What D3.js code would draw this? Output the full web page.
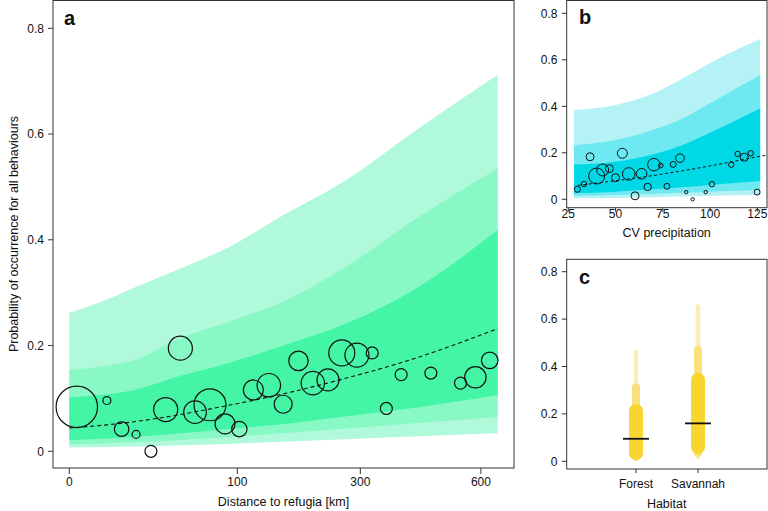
<!DOCTYPE html>
<html><head><meta charset="utf-8">
<script src="https://cdn.jsdelivr.net/npm/d3@7"></script>
<style>
body{margin:0;background:#fff;}
svg{display:block;font-family:"Liberation Sans",Arial,Helvetica,sans-serif;}
</style></head>
<body>
<script>
// ---------- Panel a data ----------
const gridA = [0, 5, 15, 40, 90, 160, 270, 420, 650];          // distance to refugia (km)
const aLo95 = [0.007, 0.008, 0.009, 0.011, 0.014, 0.018, 0.023, 0.028, 0.034];
const aLo80 = [0.013, 0.015, 0.017, 0.021, 0.027, 0.034, 0.043, 0.053, 0.065];
const aLo50 = [0.021, 0.024, 0.027, 0.033, 0.042, 0.051, 0.066, 0.082, 0.106];
const aHi50 = [0.102, 0.108, 0.116, 0.140, 0.167, 0.199, 0.241, 0.305, 0.419];
const aHi80 = [0.154, 0.162, 0.172, 0.210, 0.245, 0.282, 0.348, 0.437, 0.535];
const aHi95 = [0.262, 0.287, 0.310, 0.342, 0.386, 0.445, 0.512, 0.604, 0.712];
const aMean = [0.044, 0.050, 0.056, 0.068, 0.087, 0.108, 0.138, 0.175, 0.232];
const aDist = [0.2, 5, 9.7, 15.8, 23.6, 43.7, 32.9, 56, 70.1, 85.9, 102.4, 120, 141, 162, 186, 210, 237, 263, 293, 325, 356, 390, 463, 542, 584, 626];
const aProb = [0.084, 0.096, 0.042, 0.032, 0.0, 0.195, 0.079, 0.074, 0.088, 0.052, 0.042, 0.116, 0.125, 0.089, 0.171, 0.129, 0.135, 0.186, 0.182, 0.186, 0.081, 0.145, 0.148, 0.129, 0.14, 0.172];
const aWeight = [100, 3.7, 12.4, 3.7, 8.4, 33.6, 33.6, 29.8, 59.7, 23.3, 13.8, 23.3, 32, 18.9, 22, 32, 28.2, 39.4, 33.6, 8.4, 8.4, 8.4, 8.4, 8.4, 26.7, 16.1];
const aXTicks = [0, 100, 300, 600];
const yTicks = [0, 0.2, 0.4, 0.6, 0.8];

// ---------- Panel b data ----------
const gridB = [28, 50, 68, 85.5, 103, 126.5];                   // CV precipitation
const bLo95 = [0.004, 0.006, 0.009, 0.012, 0.015, 0.018];
const bLo80 = [0.014, 0.018, 0.023, 0.028, 0.034, 0.040];
const bLo50 = [0.026, 0.033, 0.042, 0.052, 0.064, 0.079];
const bHi50 = [0.150, 0.162, 0.190, 0.234, 0.298, 0.391];
const bHi80 = [0.233, 0.255, 0.294, 0.348, 0.427, 0.535];
const bHi95 = [0.384, 0.406, 0.449, 0.520, 0.599, 0.689];
const bMeanX = [30, 50, 68, 85.5, 103, 126.5, 130];
const bMean = [0.060, 0.080, 0.100, 0.123, 0.148, 0.185, 0.190];
const bCV = [29.8, 33.3, 36.5, 40, 43.2, 46.7, 50, 53.6, 57, 60.3, 63.8, 67, 70.3, 73.9, 77.2, 80.5, 84.1, 87.4, 90.8, 97.7, 101, 111.2, 114.6, 118.1, 121.5, 124.9];
const bProb = [0.043, 0.066, 0.183, 0.100, 0.126, 0.132, 0.093, 0.198, 0.109, 0.015, 0.110, 0.053, 0.149, 0.145, 0.056, 0.150, 0.177, 0.031, 0.000, 0.031, 0.065, 0.149, 0.195, 0.181, 0.198, 0.031];
const bWeight = [14, 11.4, 25, 100, 56, 25, 25, 39, 62, 25, 44, 21, 62, 8.3, 14, 14, 29, 4.5, 4.5, 4.5, 11.4, 11.4, 11.4, 25, 11.4, 14];
const bXTicks = [25, 50, 75, 100, 125];

// ---------- Panel c data ----------
const habitats = ["Forest", "Savannah"];
const cLo95 = [0.010, 0.018];
const cHi95 = [0.461, 0.653];
const cLo80 = [0.020, 0.035];
const cHi80 = [0.312, 0.470];
const cLo50 = [0.035, 0.060];
const cHi50 = [0.212, 0.344];
const cMean = [0.095, 0.160];

const W = 768, H = 511;
const svg = d3.select("body").append("svg").attr("width", W).attr("height", H);
const fmt = d => d === 0 ? "0" : d3.format(".1f")(d);
const FS = 12;     // tick labels
const FT = 12.5;   // axis titles
const FP = 20;     // panel letters

function frame(x0, y0, x1, y1) {
  svg.append("rect").attr("x", x0).attr("y", y0).attr("width", x1 - x0).attr("height", y1 - y0)
    .attr("fill", "none").attr("stroke", "#333").attr("stroke-width", 1);
}
function yAxis(scale, xPos, labX) {
  const g = svg.append("g");
  yTicks.forEach(t => {
    const y = scale(t);
    g.append("line").attr("x1", xPos - 5).attr("x2", xPos).attr("y1", y).attr("y2", y).attr("stroke", "#333");
    g.append("text").attr("x", labX).attr("y", y).attr("dy", "0.35em").attr("text-anchor", "end")
      .attr("font-size", FS).attr("fill", "#111").text(fmt(t));
  });
}
function xAxisTicks(positions, labels, yPos, len, labY) {
  positions.forEach((x, i) => {
    svg.append("line").attr("x1", x).attr("x2", x).attr("y1", yPos).attr("y2", yPos + len).attr("stroke", "#333");
    svg.append("text").attr("x", x).attr("y", labY).attr("dy", "0.35em").attr("text-anchor", "middle")
      .attr("font-size", FS).attr("fill", "#111").text(labels[i]);
  });
}
function bands(grid, xs, ys, layers, colors) {
  const area = d3.area().x((d, i) => xs(grid[i])).y0((d, i) => ys(d[0])).y1((d, i) => ys(d[1])).curve(d3.curveMonotoneX);
  layers.forEach((L, k) => {
    const data = grid.map((g, i) => [L[0][i], L[1][i]]);
    svg.append("path").attr("d", area(data)).attr("fill", colors[k]);
  });
}

// ================= Panel a =================
const xA = d3.scaleSqrt().domain([0, 650]).range([69.3, 497.7]);
const yA = d3.scaleLinear().domain([0, 0.8]).range([451.3, 28.3]);
const rA = d3.scaleSqrt().domain([0, 100]).range([0, 20.7]);
bands(gridA, xA, yA, [[aLo95, aHi95], [aLo80, aHi80], [aLo50, aHi50]], ["#b0f9da", "#88f9c5", "#45f5a6"]);
svg.append("path").datum(gridA.map((g, i) => [g, aMean[i]]))
  .attr("d", d3.line().x(d => xA(d[0])).y(d => yA(d[1])).curve(d3.curveMonotoneX))
  .attr("fill", "none").attr("stroke", "#111").attr("stroke-width", 1.1).attr("stroke-dasharray", "4,3");
svg.append("g").selectAll("circle").data(aDist).join("circle")
  .attr("cx", d => xA(d)).attr("cy", (d, i) => yA(aProb[i])).attr("r", (d, i) => rA(aWeight[i]))
  .attr("fill", "none").attr("stroke", "#111").attr("stroke-width", 1.2);
frame(53, 0.5, 514, 468);
yAxis(yA, 53, 44);
xAxisTicks(aXTicks.map(xA), aXTicks.map(String), 468, 6, 482);
svg.append("text").attr("x", 283.5).attr("y", 502).attr("dy", "0.35em").attr("text-anchor", "middle")
  .attr("font-size", FT).attr("fill", "#111").text("Distance to refugia [km]");
svg.append("text").attr("transform", "translate(14,234) rotate(-90)").attr("dy", "0.35em").attr("text-anchor", "middle")
  .attr("font-size", FT).attr("fill", "#111").text("Probability of occurrence for all behaviours");
svg.append("text").attr("x", 64).attr("y", 25).attr("font-size", FP).attr("font-weight", "bold").attr("fill", "#111").text("a");

// ================= Panel b =================
const xB = d3.scaleLinear().domain([25, 125]).range([568.3, 757.3]);
const yB = d3.scaleLinear().domain([0, 0.8]).range([199.3, 13.3]);
const rB = d3.scaleSqrt().domain([0, 100]).range([0, 8]);
svg.append("clipPath").attr("id", "clipB").append("rect").attr("x", 566.7).attr("y", 0).attr("width", 200).attr("height", 207.7);
bands(gridB, xB, yB, [[bLo95, bHi95], [bLo80, bHi80], [bLo50, bHi50]], ["#b5f2f6", "#6ee9f1", "#00d8e6"]);
svg.append("path").datum(bMeanX.map((g, i) => [g, bMean[i]]))
  .attr("clip-path", "url(#clipB)")
  .attr("d", d3.line().x(d => xB(d[0])).y(d => yB(d[1])).curve(d3.curveMonotoneX))
  .attr("fill", "none").attr("stroke", "#111").attr("stroke-width", 1).attr("stroke-dasharray", "3,2.5");
svg.append("g").selectAll("circle").data(bCV).join("circle")
  .attr("cx", d => xB(d)).attr("cy", (d, i) => yB(bProb[i])).attr("r", (d, i) => rB(bWeight[i]))
  .attr("fill", "none").attr("stroke", "#111").attr("stroke-width", 1);
frame(566.7, 0.5, 767, 207.7);
yAxis(yB, 566.7, 557.5);
xAxisTicks(bXTicks.map(xB), bXTicks.map(String), 207.7, 4, 213.5);
svg.append("text").attr("x", 666.7).attr("y", 233).attr("dy", "0.35em").attr("text-anchor", "middle")
  .attr("font-size", FT).attr("fill", "#111").text("CV precipitation");
svg.append("text").attr("x", 579).attr("y", 24).attr("font-size", FP).attr("font-weight", "bold").attr("fill", "#111").text("b");

// ================= Panel c =================
const xC = d3.scalePoint().domain(habitats).range([636, 698]);
const yC = d3.scaleLinear().domain([0, 0.8]).range([461.3, 271.7]);
const seg = (lo, hi, w, col) => {
  habitats.forEach((h, i) => {
    svg.append("line").attr("x1", xC(h)).attr("x2", xC(h)).attr("y1", yC(lo[i])).attr("y2", yC(hi[i]))
      .attr("stroke", col).attr("stroke-width", w).attr("stroke-linecap", "round");
  });
};
seg(cLo95, cHi95, 4.5, "#faedba");
seg(cLo80, cHi80, 8, "#f9e07c");
seg(cLo50, cHi50, 14, "#f8d630");
habitats.forEach((h, i) => {
  svg.append("line").attr("x1", xC(h) - 13).attr("x2", xC(h) + 13).attr("y1", yC(cMean[i])).attr("y2", yC(cMean[i]))
    .attr("stroke", "#111").attr("stroke-width", 1.8);
});
frame(566.7, 259.3, 767, 469);
yAxis(yC, 566.7, 557.5);
xAxisTicks(habitats.map(h => xC(h)), habitats, 469, 4, 484);
svg.append("text").attr("x", 666.7).attr("y", 504).attr("dy", "0.35em").attr("text-anchor", "middle")
  .attr("font-size", FT).attr("fill", "#111").text("Habitat");
svg.append("text").attr("x", 579).attr("y", 284).attr("font-size", FP).attr("font-weight", "bold").attr("fill", "#111").text("c");
</script>
</body></html>
